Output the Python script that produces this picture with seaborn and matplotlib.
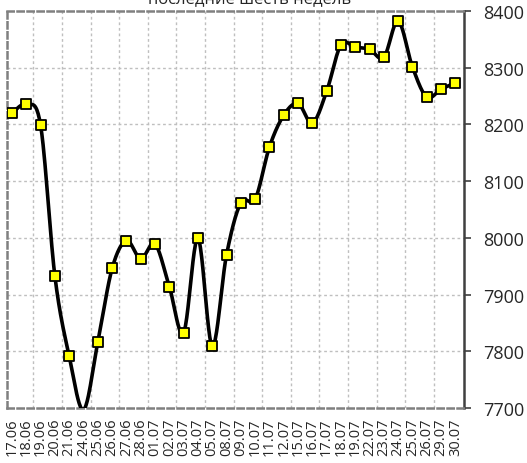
import numpy as np
import pandas as pd
import matplotlib
matplotlib.use("Agg")
import matplotlib.pyplot as plt
import seaborn as sns

title = "последние шесть недель"
dates = ["17.06", "18.06", "19.06", "20.06", "21.06", "24.06", "25.06", "26.06",
         "27.06", "28.06", "01.07", "02.07", "03.07", "04.07", "05.07", "08.07",
         "09.07", "10.07", "11.07", "12.07", "15.07", "16.07", "17.07", "18.07",
         "19.07", "22.07", "23.07", "24.07", "25.07", "26.07", "29.07", "30.07"]
values = [8220, 8235, 8198, 7932, 7791, 7697, 7816, 7946,
          7995, 7963, 7989, 7914, 7833, 7999, 7809, 7970,
          8062, 8068, 8160, 8216, 8237, 8202, 8258, 8340,
          8336, 8332, 8318, 8382, 8301, 8248, 8262, 8273]
y_ticks = [7700, 7800, 7900, 8000, 8100, 8200, 8300, 8400]


def smooth_curve(y, n=24):
    # excel-like smoothed line (bezier through the points)
    x = np.arange(len(y), dtype=float)
    y = np.asarray(y, dtype=float)
    px = np.concatenate([[x[0]], x, [x[-1]]])
    py = np.concatenate([[y[0]], y, [y[-1]]])
    xs, ys = [], []
    t = np.linspace(0, 1, n)
    for i in range(1, len(x)):
        p0 = np.array([px[i - 1], py[i - 1]])
        p1 = np.array([px[i], py[i]])
        p2 = np.array([px[i + 1], py[i + 1]])
        p3 = np.array([px[i + 2], py[i + 2]])
        b1 = p1 + (p2 - p0) / 6
        b2 = p2 - (p3 - p1) / 6
        pts = ((1 - t) ** 3)[:, None] * p1 + (3 * (1 - t) ** 2 * t)[:, None] * b1 \
            + (3 * (1 - t) * t ** 2)[:, None] * b2 + (t ** 3)[:, None] * p2
        xs.extend(pts[:, 0])
        ys.extend(pts[:, 1])
    return pd.DataFrame({"x": xs, "y": ys})


sns.set_style("white")
plt.rcParams["font.family"] = ["Open Sans", "DejaVu Sans"]

fig = plt.figure(figsize=(5.27, 4.64), dpi=100)
ax = fig.add_axes([0.0133, 0.1185, 0.867, 0.856])

df = pd.DataFrame({"x": np.arange(len(dates)), "y": values})
curve = smooth_curve(values)
sns.lineplot(data=curve, x="x", y="y", sort=False, estimator=None,
             color="black", linewidth=2.6, ax=ax, zorder=3)
shown = df[df["y"] >= y_ticks[0]]
sns.scatterplot(data=shown, x="x", y="y", marker="s", s=55, color="#FFFF00",
                edgecolor="black", linewidth=1.3, ax=ax, zorder=4)

ax.set_xlim(-0.35, 31.6)
ax.set_ylim(y_ticks[0], y_ticks[-1])
ax.set_yticks(y_ticks)
ax.set_xticks(np.arange(len(dates)))
ax.set_xticklabels(dates, rotation=90, fontsize=10.5)
ax.yaxis.tick_right()
ax.tick_params(axis="y", labelsize=13, length=5, width=1.2, color="#404040",
               direction="out", pad=9, right=True, left=False)
ax.tick_params(axis="x", length=0, pad=7)
ax.set_xlabel("")
ax.set_ylabel("")

for v in y_ticks[1:-1]:
    ax.axhline(v, color="#BFBFBF", linestyle=(0, (2, 2)), linewidth=1, zorder=1)
for gx in np.arange(1.5, len(dates) - 1, 2):
    ax.axvline(gx, color="#BFBFBF", linestyle=(0, (2, 2)), linewidth=1, zorder=1)

for side in ["top", "left", "bottom"]:
    ax.spines[side].set_color("#808080")
    ax.spines[side].set_linewidth(1.8)
    ax.spines[side].set_linestyle((0, (2.5, 1.5)))
ax.spines["right"].set_color("#404040")
ax.spines["right"].set_linewidth(1.8)
ax.spines["right"].set_linestyle((0, (3, 1)))

fig.text(0.473, 0.9925, title, ha="center", va="baseline", fontsize=12)

fig.savefig("out.png", dpi=100)
